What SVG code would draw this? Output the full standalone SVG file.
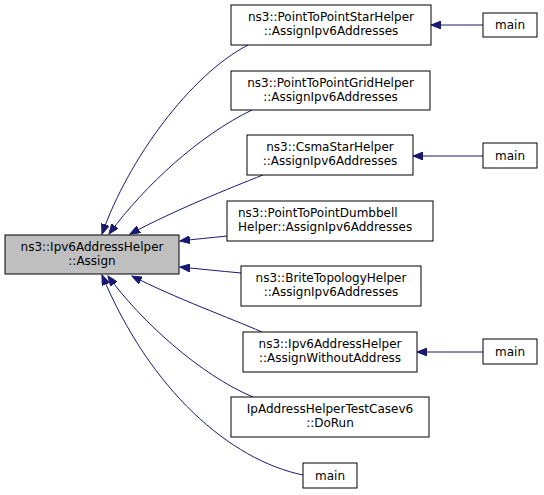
<svg xmlns="http://www.w3.org/2000/svg" width="544" height="495" viewBox="0 0 544 495">
<style>
.n rect{fill:#fff;stroke:#000;stroke-width:1}
.n text{font-family:"DejaVu Sans","Liberation Sans",sans-serif;font-size:12px;fill:#000;text-anchor:middle}
.e path{fill:none;stroke:#191970;stroke-width:1;marker-end:url(#ah)}
</style>
<defs>
<marker id="ah" markerUnits="userSpaceOnUse" markerWidth="11" markerHeight="8" refX="10" refY="4" orient="auto">
<path d="M0,0 L10,4 L0,8 z" fill="#191970" stroke="#191970" stroke-width="1"/>
</marker>
</defs>
<rect width="544" height="495" fill="#fff"/>
<g class="e" id="edges">
<path d="M483,25 L431,25"/>
<path d="M483,156 L413,156"/>
<path d="M483,352 L417,352"/>
<path d="M248,45 C190,75 128,160 102,234"/>
<path d="M252,110 C200,135 145,185 109,234"/>
<path d="M263,175 C230,188 175,210 130,234"/>
<path d="M227,236 C210,238 195,239 180,241"/>
<path d="M241,273 C220,271 200,269 180,267"/>
<path d="M262,332 C230,318 175,298 132,276"/>
<path d="M253,397 C200,375 140,320 108,276"/>
<path d="M303,475 C230,460 150,390 102,275"/>
</g>
<g class="n" id="main">
<rect x="5" y="235" width="174" height="39" style="fill:#bfbfbf"/>
<text x="92" y="251">ns3::Ipv6AddressHelper</text>
<text x="92" y="265">::Assign</text>
</g>
<g class="n" id="n1">
<rect x="231" y="5" width="200" height="40"/>
<text x="331" y="21">ns3::PointToPointStarHelper</text>
<text x="331" y="35">::AssignIpv6Addresses</text>
</g>
<g class="n" id="n2">
<rect x="231" y="71" width="199" height="39"/>
<text x="330.5" y="87">ns3::PointToPointGridHelper</text>
<text x="330.5" y="101">::AssignIpv6Addresses</text>
</g>
<g class="n" id="n3">
<rect x="247" y="135" width="166" height="40"/>
<text x="330" y="151">ns3::CsmaStarHelper</text>
<text x="330" y="165">::AssignIpv6Addresses</text>
</g>
<g class="n" id="n4">
<rect x="227" y="201" width="206" height="40"/>
<text x="238" y="217" style="text-anchor:start">ns3::PointToPointDumbbell</text>
<text x="238" y="231" style="text-anchor:start">Helper::AssignIpv6Addresses</text>
</g>
<g class="n" id="n5">
<rect x="241" y="266" width="180" height="40"/>
<text x="331" y="282">ns3::BriteTopologyHelper</text>
<text x="331" y="296">::AssignIpv6Addresses</text>
</g>
<g class="n" id="n6">
<rect x="243" y="332" width="174" height="40"/>
<text x="330" y="348">ns3::Ipv6AddressHelper</text>
<text x="330" y="362">::AssignWithoutAddress</text>
</g>
<g class="n" id="n7">
<rect x="231" y="397" width="198" height="40"/>
<text x="330" y="413">IpAddressHelperTestCasev6</text>
<text x="330" y="427">::DoRun</text>
</g>
<g class="n" id="n8">
<rect x="303" y="463" width="54" height="25"/>
<text x="330" y="480">main</text>
</g>
<g class="n" id="m1">
<rect x="483" y="13" width="54" height="24"/>
<text x="510" y="29">main</text>
</g>
<g class="n" id="m3">
<rect x="483" y="143" width="54" height="25"/>
<text x="510" y="160">main</text>
</g>
<g class="n" id="m6">
<rect x="483" y="339" width="54" height="25"/>
<text x="510" y="356">main</text>
</g>
</svg>
